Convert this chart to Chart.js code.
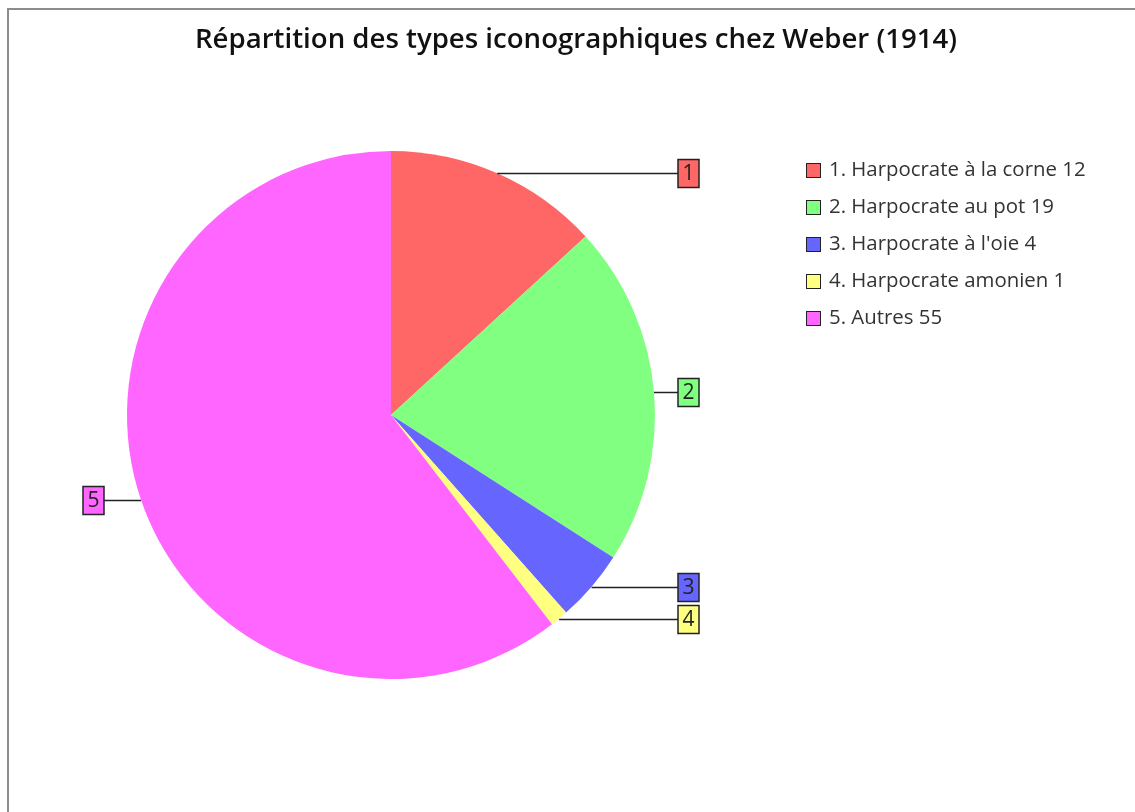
<!DOCTYPE html>
<html>
<head>
<meta charset="utf-8">
<script src="https://cdn.jsdelivr.net/npm/chart.js@4"></script>
<style>
  html, body { margin: 0; padding: 0; background: #fff; }
  #frame { position: absolute; left: 7px; top: 8px; width: 1128px; height: 804px;
           border-top: 2px solid #8c8c8c; border-left: 2px solid #8c8c8c; box-sizing: border-box; }
  #myChart { position: absolute; left: 0; top: 0; }
</style>
</head>
<body>
<div id="frame"></div>
<canvas id="myChart" width="1135" height="812"></canvas>
<script>
const titleText = 'Répartition des types iconographiques chez Weber (1914)';
const categories = ['Harpocrate à la corne', 'Harpocrate au pot', "Harpocrate à l'oie", 'Harpocrate amonien', 'Autres'];
const counts = [12, 19, 4, 1, 55];
const colors = ['#ff6666', '#80ff80', '#6666ff', '#ffff80', '#ff66ff'];

const FONT = '"Open Sans", "Noto Sans", sans-serif';

// title, legend and numbered callouts drawn on the canvas
const extras = {
  id: 'extras',
  afterDraw(chart) {
    const ctx = chart.ctx;
    ctx.save();

    // title
    ctx.fillStyle = '#111';
    ctx.font = '600 27.6px ' + FONT;
    ctx.textAlign = 'center';
    ctx.textBaseline = 'middle';
    ctx.fillText(titleText, 576, 40);

    // legend
    ctx.font = '20.4px ' + FONT;
    ctx.textAlign = 'left';
    categories.forEach((c, i) => {
      const y = 170 + i * 37;
      ctx.fillStyle = colors[i];
      ctx.fillRect(806.5, y - 6.5, 14, 14);
      ctx.strokeStyle = '#222';
      ctx.lineWidth = 1;
      ctx.strokeRect(806.5, y - 6.5, 14, 14);
      ctx.fillStyle = '#333';
      ctx.fillText((i + 1) + '. ' + c + ' ' + counts[i], 829, y);
    });

    // callouts
    const arcs = chart.getDatasetMeta(0).data;
    ctx.font = '21px ' + FONT;
    ctx.textAlign = 'center';
    arcs.forEach((arc, i) => {
      const p = arc.getProps(['x', 'y', 'startAngle', 'endAngle', 'outerRadius'], true);
      const mid = (p.startAngle + p.endAngle) / 2;
      const ax = p.x + Math.cos(mid) * p.outerRadius;
      const ay = Math.round(p.y + Math.sin(mid) * p.outerRadius) + 0.5;
      const right = Math.cos(mid) >= 0;
      const bw = 21, bh = 28;
      const bx = right ? p.x + p.outerRadius + 23 : p.x - p.outerRadius - 23 - bw;
      ctx.strokeStyle = '#222';
      ctx.lineWidth = 1.5;
      ctx.beginPath();
      ctx.moveTo(ax, ay);
      ctx.lineTo(right ? bx : bx + bw, ay);
      ctx.stroke();
      ctx.fillStyle = colors[i];
      ctx.fillRect(bx, ay - bh / 2, bw, bh);
      ctx.strokeRect(bx, ay - bh / 2, bw, bh);
      ctx.fillStyle = '#222';
      ctx.fillText(String(i + 1), bx + bw / 2, ay + 1);
    });
    ctx.restore();
  }
};

new Chart('myChart', {
  type: 'pie',
  data: {
    labels: categories,
    datasets: [{
      data: counts,
      backgroundColor: colors,
      borderWidth: 0
    }]
  },
  options: {
    responsive: false,
    animation: false,
    layout: { padding: { left: 127, top: 151, right: 480, bottom: 133 } },
    plugins: {
      legend: { display: false },
      title: { display: false },
      tooltip: { enabled: false }
    }
  },
  plugins: [extras]
});
</script>
</body>
</html>
